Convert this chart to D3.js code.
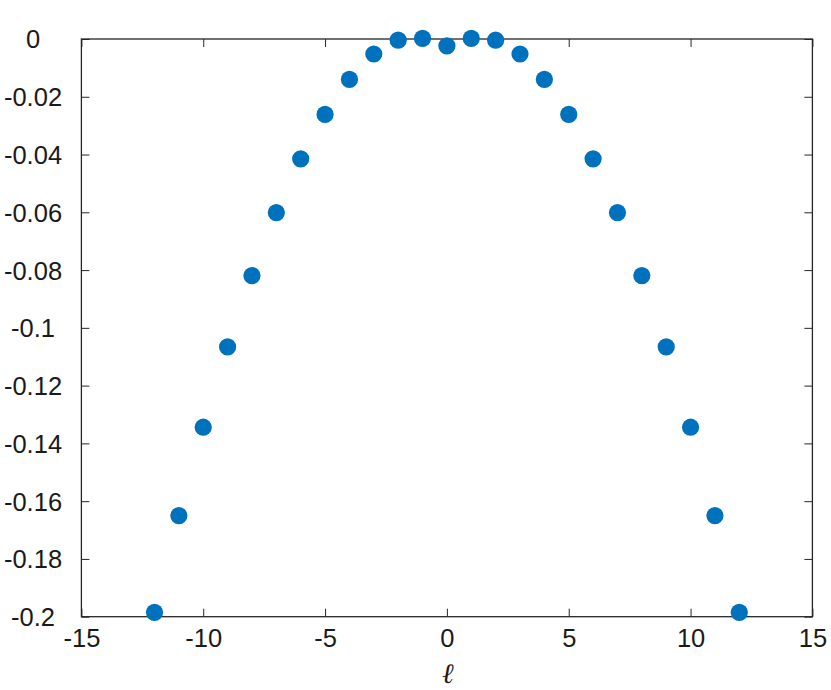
<!DOCTYPE html>
<html>
<head>
<meta charset="utf-8">
<script src="https://cdn.jsdelivr.net/npm/d3@7"></script>
<style>
  html, body { margin: 0; padding: 0; background: #fff; }
  svg { display: block; }
</style>
</head>
<body>
<svg id="chart" width="831" height="690"></svg>
<script>
const ells = [-12, -11, -10, -9, -8, -7, -6, -5, -4, -3, -2, -1, 0, 1, 2, 3, 4, 5, 6, 7, 8, 9, 10, 11, 12];
const values = [-0.1985, -0.1650, -0.1344, -0.1066, -0.0819, -0.0601, -0.0415, -0.0261, -0.0140, -0.0052, -0.0004, 0.0002, -0.0024,
                0.0002, -0.0004, -0.0052, -0.0140, -0.0261, -0.0415, -0.0601, -0.0819, -0.1066, -0.1344, -0.1650, -0.1985];
const xTicks = [-15, -10, -5, 0, 5, 10, 15];
const yTicks = [0, -0.02, -0.04, -0.06, -0.08, -0.1, -0.12, -0.14, -0.16, -0.18, -0.2];
const xLabel = "ℓ";

(function () {
const svg = d3.select("#chart");
const mLeft = 81.4, mRight = 812.4, mTop = 39, mBottom = 616.7;
const x = d3.scaleLinear().domain([-15, 15]).range([mLeft, mRight]);
const y = d3.scaleLinear().domain([-0.2, 0]).range([mBottom, mTop]);
const axisColor = "#262626";
const font = "'Liberation Sans', Arial, Helvetica, sans-serif";
const tickLen = 8;

const g = svg.append("g");

g.append("rect").attr("x", mLeft).attr("y", mTop).attr("width", mRight - mLeft).attr("height", mBottom - mTop)
  .attr("fill", "none").attr("stroke", axisColor).attr("stroke-width", 1.3);

const xb = g.append("g").attr("transform", `translate(0,${mBottom})`)
  .call(d3.axisBottom(x).tickValues(xTicks).tickSize(-tickLen).tickPadding(12).tickFormat(d => String(d)));
const xt = g.append("g").attr("transform", `translate(0,${mTop})`)
  .call(d3.axisTop(x).tickValues(xTicks).tickSize(-tickLen).tickFormat(""));
const yl = g.append("g").attr("transform", `translate(${mLeft},0)`)
  .call(d3.axisLeft(y).tickValues(yTicks).tickSize(-tickLen).tickPadding(48)
    .tickFormat(d => d === 0 ? "0" : String(+d.toFixed(2))));
const yr = g.append("g").attr("transform", `translate(${mRight},0)`)
  .call(d3.axisRight(y).tickValues(yTicks).tickSize(-tickLen).tickFormat(""));

[xb, xt, yl, yr].forEach(a => {
  a.select(".domain").remove();
  a.selectAll(".tick line").attr("stroke", axisColor).attr("stroke-width", 1);
  a.selectAll(".tick text").attr("fill", "#1a1a1a").attr("font-family", font).attr("font-size", 25.5);
});
xb.selectAll(".tick text").attr("dy", "0.71em");
yl.selectAll(".tick text").attr("text-anchor", "middle").attr("x", 33 - mLeft).attr("dy", "0.35em");

g.append("text").attr("x", (mLeft + mRight) / 2 + 1).attr("y", 683)
  .attr("text-anchor", "middle").attr("font-family", "'DejaVu Serif', 'Liberation Serif', serif")
  .attr("font-style", "italic").attr("font-size", 28).attr("fill", "#1a1a1a").text(xLabel);

g.append("g").selectAll("circle").data(ells.map((l, i) => ({ l, v: values[i] })))
  .join("circle")
  .attr("cx", d => x(d.l)).attr("cy", d => y(d.v)).attr("r", 8.6)
  .attr("fill", "#0072BD");
})();
</script>
</body>
</html>
